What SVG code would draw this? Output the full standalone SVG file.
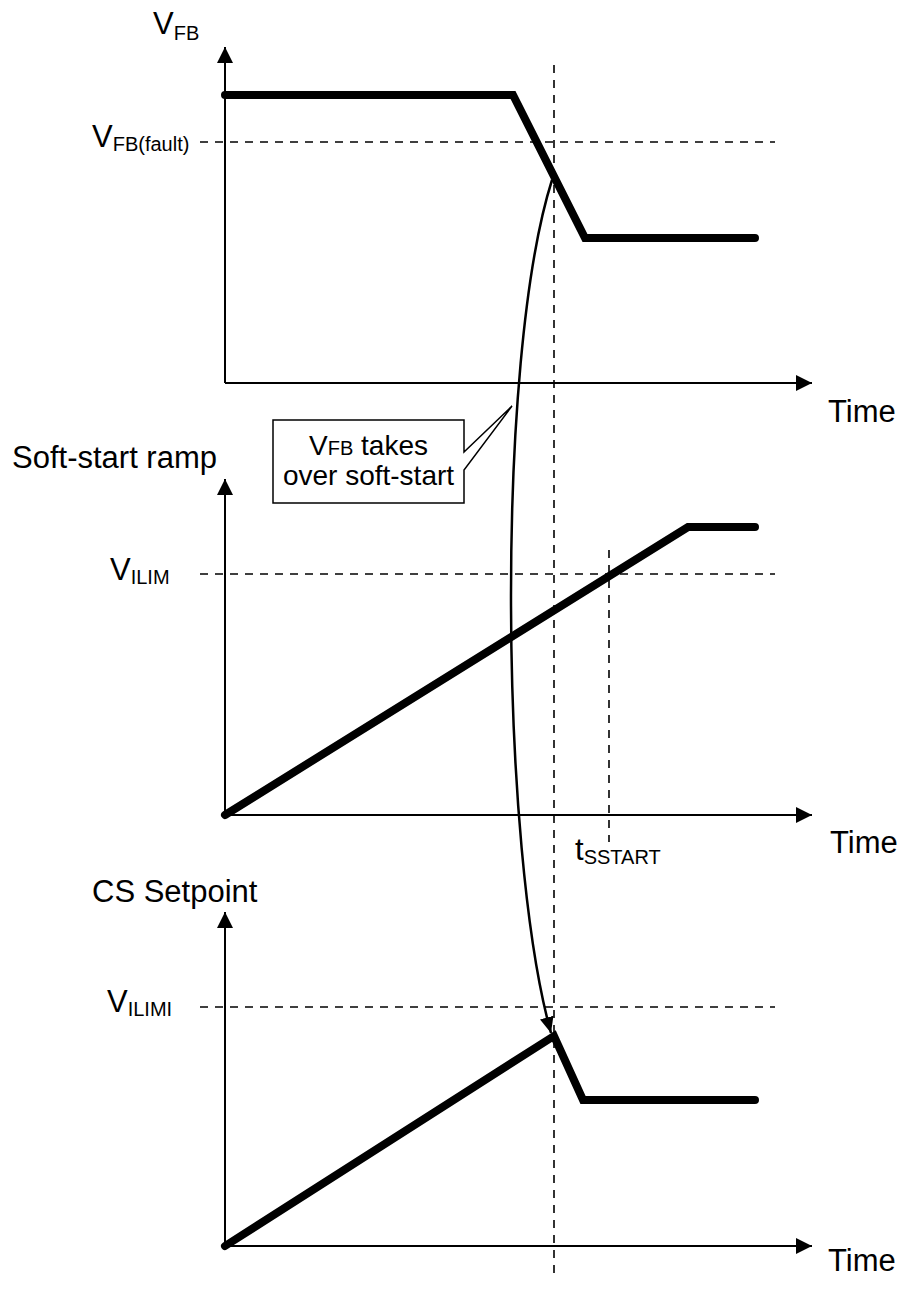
<svg xmlns="http://www.w3.org/2000/svg" width="900" height="1290" viewBox="0 0 900 1290">
<style>
.axis{stroke:#000;stroke-width:2;fill:none}
.dash{stroke:#000;stroke-width:1.6;stroke-dasharray:8,7;fill:none}
.wave{stroke:#000;stroke-width:8;fill:none;stroke-linecap:round;stroke-linejoin:miter}
.lbl{font-family:"Liberation Sans",Arial,sans-serif;font-size:31px;fill:#000}
.sub{font-size:20px}
.call{font-family:"Liberation Sans",Arial,sans-serif;font-size:28px;fill:#000}
</style>
<defs>
<marker id="ah" markerUnits="userSpaceOnUse" markerWidth="16" markerHeight="16" refX="16" refY="8" orient="auto" viewBox="0 0 16 16">
<path d="M0,0 L16,8 L0,16 z" fill="#000"/>
</marker>
<marker id="ch" markerUnits="userSpaceOnUse" markerWidth="16" markerHeight="14" refX="16" refY="7" orient="auto" viewBox="0 0 16 14">
<path d="M0,0 L16,7 L0,14 z" fill="#000"/>
</marker>
</defs>
<rect width="900" height="1290" fill="#fff"/>

<g id="guide-tfault">
<line class="dash" x1="554" y1="65" x2="554" y2="1275"/>
</g>

<g id="panel-vfb">
<line class="axis" x1="225" y1="383" x2="225" y2="47" marker-end="url(#ah)"/>
<line class="axis" x1="225" y1="383" x2="812" y2="383" marker-end="url(#ah)"/>
<line class="dash" x1="200" y1="142" x2="775" y2="142"/>
<polyline class="wave" points="225,95 513,95 585,238 755,238"/>
<text class="lbl" x="153" y="34">V<tspan class="sub" dy="6">FB</tspan></text>
<text class="lbl" x="92" y="147">V<tspan class="sub" dy="4">FB(fault)</tspan></text>
<text class="lbl" x="828" y="422">Time</text>
</g>

<g id="panel-softstart">
<line class="axis" x1="225" y1="815" x2="225" y2="479" marker-end="url(#ah)"/>
<line class="axis" x1="225" y1="815" x2="812" y2="815" marker-end="url(#ah)"/>
<line class="dash" x1="200" y1="574" x2="775" y2="574"/>
<line class="dash" x1="609" y1="550" x2="609" y2="842"/>
<polyline class="wave" points="225,815 688,527 755,527"/>
<text class="lbl" x="12" y="468">Soft-start ramp</text>
<text class="lbl" x="110" y="580">V<tspan class="sub" dy="4">ILIM</tspan></text>
<text class="lbl" x="575" y="860">t<tspan class="sub" dy="4">SSTART</tspan></text>
<text class="lbl" x="830" y="853">Time</text>
</g>

<g id="panel-cs">
<line class="axis" x1="225" y1="1246" x2="225" y2="912" marker-end="url(#ah)"/>
<line class="axis" x1="225" y1="1246" x2="812" y2="1246" marker-end="url(#ah)"/>
<line class="dash" x1="200" y1="1007" x2="775" y2="1007"/>
<polyline class="wave" points="225,1246 554,1036 583,1100 755,1100"/>
<text class="lbl" x="92" y="902">CS Setpoint</text>
<text class="lbl" x="107" y="1012">V<tspan class="sub" dy="4">ILIMI</tspan></text>
<text class="lbl" x="828" y="1271">Time</text>
</g>

<g id="callout">
<path d="M273,420 H464 V452 L512,406 L464,470 V503 H273 Z" fill="#fff" stroke="#000" stroke-width="1.5"/>
<text class="call" x="368.5" y="455" text-anchor="middle">V<tspan font-size="20">FB</tspan> takes</text>
<text class="call" x="368.5" y="485" text-anchor="middle">over soft-start</text>
</g>

<g id="connectors">
<path d="M552,180 C495,360 500,850 551,1033" fill="none" stroke="#000" stroke-width="2.5" marker-end="url(#ch)"/>
</g>
</svg>
